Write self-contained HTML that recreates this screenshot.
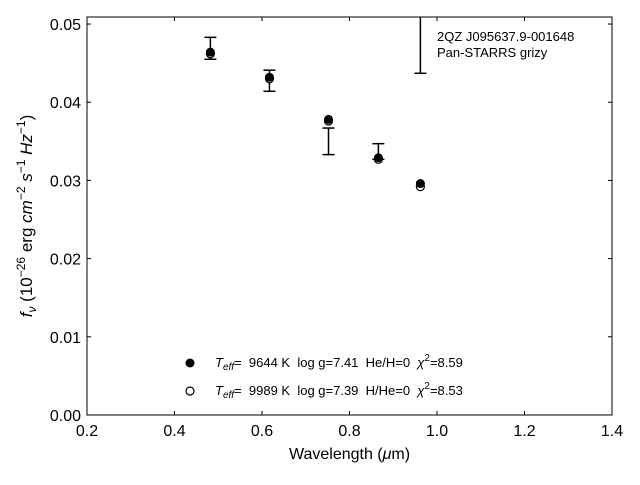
<!DOCTYPE html>
<html><head><meta charset="utf-8"><style>
body{margin:0;background:#fff;}
svg text{font-family:"Liberation Sans","DejaVu Sans",sans-serif;fill:#000;white-space:pre;}
</style></head><body>
<svg id="chart" width="640" height="480" xmlns="http://www.w3.org/2000/svg">
<rect x="0" y="0" width="640" height="480" fill="#fff"/>
<g id="marks"></g>
<g id="axes"></g>
<rect x="87" y="17" width="525" height="398" fill="none" stroke="#000" stroke-width="1"/>
<text x="349.5" y="459" font-size="16" text-anchor="middle">Wavelength (<tspan font-style="italic">μ</tspan>m)</text>
<text transform="translate(32,216) rotate(-90)" font-size="17" text-anchor="middle"><tspan font-style="italic">f</tspan><tspan font-style="italic" font-size="12" dy="4">ν</tspan><tspan dy="-4"> (10</tspan><tspan font-size="12" dy="-7">−26</tspan><tspan dy="7"> erg </tspan><tspan font-style="italic">cm</tspan><tspan font-size="12" dy="-7">−2</tspan><tspan dy="7" font-style="italic"> s</tspan><tspan font-size="12" dy="-7">−1</tspan><tspan dy="7" font-style="italic"> Hz</tspan><tspan font-size="12" dy="-7">−1</tspan><tspan dy="7">)</tspan></text>
<text x="437" y="41" font-size="13">2QZ J095637.9-001648</text>
<text x="437" y="57" font-size="13">Pan-STARRS grizy</text>
<g>
<circle cx="190" cy="363" r="4.5" fill="#000"/>
<text x="215" y="367" font-size="13"><tspan font-style="italic">T</tspan><tspan font-style="italic" font-size="10" dy="3">eff</tspan><tspan dy="-3">=  9644 K  log g=7.41  He/H=0  </tspan><tspan font-style="italic">χ</tspan><tspan font-size="10" dy="-6">2</tspan><tspan dy="6">=8.59</tspan></text>
<circle cx="190" cy="391" r="4" fill="#fff" stroke="#000" stroke-width="1.2"/>
<text x="215" y="395" font-size="13"><tspan font-style="italic">T</tspan><tspan font-style="italic" font-size="10" dy="3">eff</tspan><tspan dy="-3">=  9989 K  log g=7.39  H/He=0  </tspan><tspan font-style="italic">χ</tspan><tspan font-size="10" dy="-6">2</tspan><tspan dy="6">=8.53</tspan></text>
</g>
</svg>
<script>
const wavelengths=[0.482,0.617,0.752,0.866,0.962];
const obsFlux=[0.0469,0.04275,0.0350,0.0337,0.0520];
const obsErr=[0.0014,0.00135,0.0017,0.0010,0.0083];
const modelH=[0.0464,0.0432,0.0378,0.0329,0.0296];
const modelHe=[0.0462,0.0430,0.0376,0.0327,0.0292];
const xTicks=[0.2,0.4,0.6,0.8,1.0,1.2,1.4];
const yTicks=[0,0.01,0.02,0.03,0.04,0.05];
const L=87,R=612,T=17,B=415;
const xMin=0.2,xMax=1.4,yMin=0,yMax=0.0509;
const sx=v=>L+(v-xMin)/(xMax-xMin)*(R-L);
const sy=v=>B-(v-yMin)/(yMax-yMin)*(B-T);
const NS="http://www.w3.org/2000/svg";
const marks=document.getElementById('marks'),axes=document.getElementById('axes');
function mk(tag,attrs,parent){const e=document.createElementNS(NS,tag);for(const k in attrs)e.setAttribute(k,attrs[k]);parent.appendChild(e);return e;}
const clip=mk('clipPath',{id:'pc'},marks);mk('rect',{x:L,y:T,width:R-L,height:B-T},clip);
const g=mk('g',{'clip-path':'url(#pc)'},marks);
wavelengths.forEach((w,i)=>{
  const x=sx(w),y1=sy(obsFlux[i]+obsErr[i]),y2=sy(obsFlux[i]-obsErr[i]);
  const eb=mk('g',{},g);
  
  
  mk('line',{x1:x,y1:y1,x2:x,y2:y2,stroke:'#000','stroke-width':1.5},eb);
  mk('line',{x1:x-6,y1:y1,x2:x+6,y2:y1,stroke:'#000','stroke-width':1.5},eb);
  mk('line',{x1:x-6,y1:y2,x2:x+6,y2:y2,stroke:'#000','stroke-width':1.5},eb);
});
wavelengths.forEach((w,i)=>{
  const c=mk('circle',{cx:sx(w),cy:sy(modelHe[i]),r:4,fill:'#fff',stroke:'#000','stroke-width':1.2},g);
  
  
});
wavelengths.forEach((w,i)=>{
  const c=mk('circle',{cx:sx(w),cy:sy(modelH[i]),r:4.5,fill:'#000'},g);
  
  
});
xTicks.forEach(v=>{
  const x=sx(v);
  mk('line',{x1:x,y1:B,x2:x,y2:B-4,stroke:'#000'},axes);
  mk('line',{x1:x,y1:T,x2:x,y2:T+4,stroke:'#000'},axes);
  const t=mk('text',{x:x,y:B+21,'font-size':16,'text-anchor':'middle'},axes);
  
  
  t.textContent=v.toFixed(1);
});
yTicks.forEach(v=>{
  const y=sy(v);
  mk('line',{x1:L,y1:y,x2:L+4,y2:y,stroke:'#000'},axes);
  mk('line',{x1:R,y1:y,x2:R-4,y2:y,stroke:'#000'},axes);
  const t=mk('text',{x:L-6,y:y+6,'font-size':16,'text-anchor':'end'},axes);
  
  
  t.textContent=v.toFixed(2);
});
</script>
</body></html>
